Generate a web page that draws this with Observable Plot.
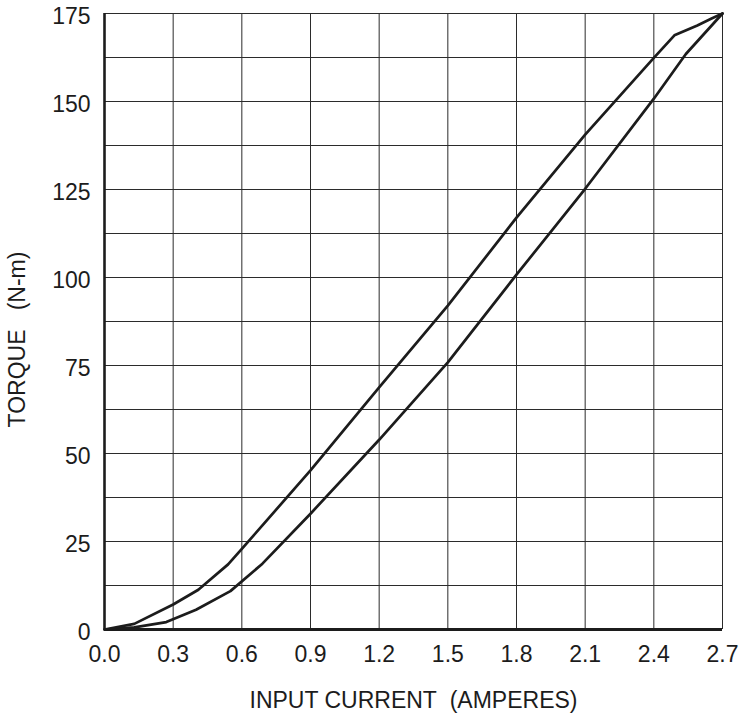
<!DOCTYPE html>
<html>
<head>
<meta charset="utf-8">
<script src="https://cdn.jsdelivr.net/npm/d3@7"></script>
<script src="https://cdn.jsdelivr.net/npm/@observablehq/plot@0.6"></script>
<style>
  html, body { margin: 0; padding: 0; background: #fff; }
  #chart svg { display: block; }
  #chart svg text { font-size: 23px; }
</style>
</head>
<body>
<div id="chart"></div>
<script>
// Ascending branch (lower curve): input current (A) and torque (N-m)
const ascCurrent = [0.00, 0.13, 0.27, 0.40, 0.55, 0.69, 0.90, 1.20, 1.50, 1.80, 2.10, 2.40, 2.54, 2.70];
const ascTorque  = [0.0,  0.6,  2.1,  5.6,  10.9, 18.7, 32.9, 53.9, 75.9, 100.8, 125.2, 150.8, 163.5, 175.0];
// Descending branch (upper curve)
const descCurrent = [2.70, 2.65, 2.59, 2.49, 2.40, 2.10, 1.80, 1.50, 1.20, 0.90, 0.60, 0.54, 0.41, 0.30, 0.13, 0.00];
const descTorque  = [175.0, 173.5, 171.6, 168.8, 162.4, 140.6, 117.0, 92.0, 68.8, 45.2, 22.9, 18.5, 11.3, 7.1, 1.6, 0.0];

const xTicks = [0, 0.3, 0.6, 0.9, 1.2, 1.5, 1.8, 2.1, 2.4, 2.7];
const yTicks = [0, 25, 50, 75, 100, 125, 150, 175];
const yGrid = [12.5, 25, 37.5, 50, 62.5, 75, 87.5, 100, 112.5, 125, 137.5, 150, 162.5, 175];
const xTitle = "INPUT CURRENT\u00a0\u00a0(AMPERES)";
const yTitle = "TORQUE\u00a0\u00a0\u00a0(N-m)";

const data = [
  ...ascCurrent.map((c, i) => ({branch: "ascending", current: c, torque: ascTorque[i]})),
  ...descCurrent.map((c, i) => ({branch: "descending", current: c, torque: descTorque[i]}))
];

const font = "'Liberation Sans', Arial, Helvetica, sans-serif";
const ink = "#1c1c1c";

const chart = Plot.plot({
  width: 739,
  height: 719,
  marginTop: 13,
  marginRight: 17,
  marginBottom: 90,
  marginLeft: 104,
  style: {fontFamily: font, fontSize: "23px", color: ink, background: "#fff"},
  x: {domain: [0, 2.7]},
  y: {domain: [0, 175]},
  marks: [
    Plot.gridX(xTicks.slice(1), {stroke: "#2b2b2b", strokeOpacity: 1, strokeWidth: 1}),
    Plot.gridY(yGrid, {stroke: "#2b2b2b", strokeOpacity: 1, strokeWidth: 1}),
    Plot.axisX(xTicks, {tickSize: 0, tickPadding: 16, tickFormat: d => d.toFixed(1), label: null, fontSize: 23, fill: ink}),
    Plot.axisY(yTicks, {tickSize: 0, tickPadding: 14, tickFormat: d => String(d), label: null, fontSize: 23, dy: 3, fill: ink}),
    Plot.ruleX([0], {stroke: ink, strokeWidth: 2.6}),
    Plot.ruleY([0], {stroke: ink, strokeWidth: 3}),
    Plot.line(data, {x: "current", y: "torque", z: "branch", stroke: ink, strokeWidth: 2.7, strokeLinejoin: "round", strokeLinecap: "round"}),
    Plot.text([xTitle], {frameAnchor: "bottom", dy: 71, text: d => d, fontSize: 23, textAnchor: "middle", lineAnchor: "middle", fill: ink}),
    Plot.text([yTitle], {frameAnchor: "left", dx: -87, dy: 18, rotate: -90, text: d => d, fontSize: 23, textAnchor: "middle", lineAnchor: "middle", fill: ink})
  ]
});

document.getElementById("chart").appendChild(chart);
</script>
</body>
</html>
